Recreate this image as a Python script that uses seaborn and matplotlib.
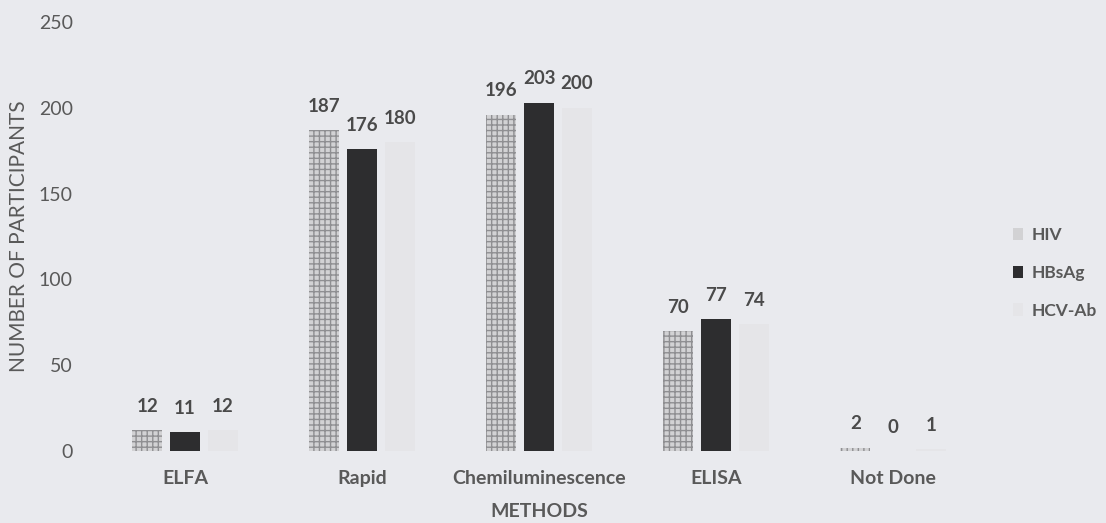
import matplotlib
matplotlib.use("Agg")
import matplotlib.pyplot as plt
import seaborn as sns
import pandas as pd

methods = ["ELFA", "Rapid", "Chemiluminescence", "ELISA", "Not Done"]
series = ["HIV", "HBsAg", "HCV-Ab"]
hiv = [12, 187, 196, 70, 2]
hbsag = [11, 176, 203, 77, 0]
hcv = [12, 180, 200, 74, 1]
yticks = [0, 50, 100, 150, 200, 250]

rows = []
for name, vals in zip(series, [hiv, hbsag, hcv]):
    for m, v in zip(methods, vals):
        rows.append({"Method": m, "Test": name, "Count": v})
df = pd.DataFrame(rows)

sns.set_theme(style="white")
plt.rcParams["font.family"] = ["Lato", "DejaVu Sans"]

bg = "#e9eaee"
txt = "#595959"
palette = {"HIV": "#d2d2d4", "HBsAg": "#2d2d2f", "HCV-Ab": "#e4e5e8"}

fig = plt.figure(figsize=(11.06, 5.23), dpi=100, facecolor=bg)
ax = fig.add_axes([0.0873, 0.1377, 0.8001, 0.8203])
ax.set_facecolor(bg)

sns.barplot(data=df, x="Method", y="Count", hue="Test", order=methods,
            hue_order=series, palette=palette, width=0.64, gap=0.2,
            linewidth=0, ax=ax, legend=True)

# stipple texture on HIV bars
for bar in ax.containers[0]:
    bar.set_hatch("+++")
    bar.set_edgecolor("#8f8f92")
    bar.set_linewidth(0)

for cont in ax.containers:
    ax.bar_label(cont, labels=[f"{v:.0f}" for v in cont.datavalues],
                 padding=11, fontsize=13.5, fontweight="bold", color="#4a4a4a")

ax.set_ylim(0, 250)
ax.set_xlim(-0.5, 4.5)
ax.set_yticks(yticks)
ax.set_yticklabels([str(t) for t in yticks], fontsize=14, color=txt)
ax.tick_params(axis="y", length=0, pad=17)
ax.tick_params(axis="x", length=0, pad=14, labelsize=14, labelcolor=txt)
for lbl in ax.get_xticklabels():
    lbl.set_fontweight("bold")
for s in ax.spines.values():
    s.set_visible(False)

ax.set_xlabel("METHODS", fontsize=14, fontweight="bold", color=txt)
ax.xaxis.set_label_coords(0.5, -0.121)
ax.set_ylabel("NUMBER OF PARTICIPANTS", fontsize=15, color=txt)
ax.yaxis.set_label_coords(-0.076, 0.5)

leg = ax.legend(loc="center left", bbox_to_anchor=(1.018, 0.415), frameon=False,
                fontsize=12.5, labelspacing=1.25, handlelength=0.55,
                handleheight=0.7, handletextpad=0.5)
for t in leg.get_texts():
    t.set_color(txt)
    t.set_fontweight("bold")

fig.savefig("out.png", dpi=100, facecolor=bg)
